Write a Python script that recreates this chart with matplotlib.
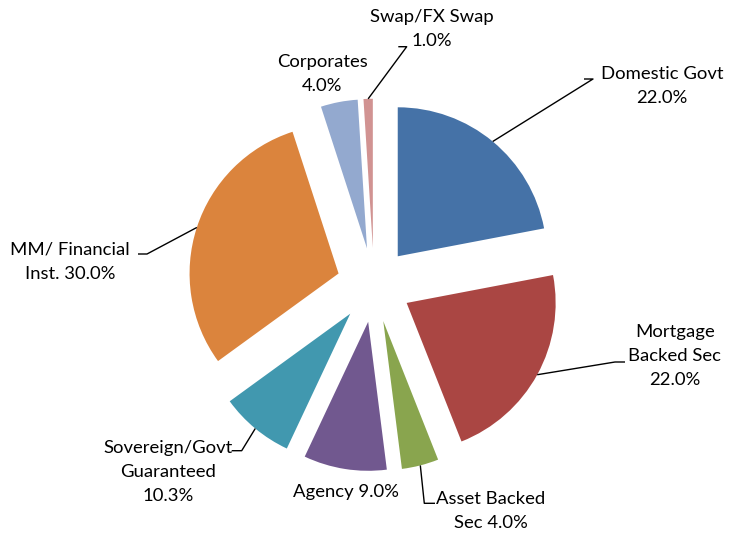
import numpy as np
import matplotlib
matplotlib.use("Agg")
import matplotlib.pyplot as plt

categories = ["Domestic Govt", "Mortgage Backed Sec", "Asset Backed Sec", "Agency",
              "Sovereign/Govt Guaranteed", "MM/ Financial Inst.", "Corporates", "Swap/FX Swap"]
values = [22.0, 22.0, 4.0, 9.0, 8.0, 30.0, 4.0, 1.0]
label_pcts = ["22.0%", "22.0%", "4.0%", "9.0%", "10.3%", "30.0%", "4.0%", "1.0%"]
label_texts = ["Domestic Govt\n22.0%", "Mortgage\nBacked Sec\n22.0%", "Asset Backed\nSec 4.0%",
               "Agency 9.0%", "Sovereign/Govt\nGuaranteed\n10.3%", "MM/ Financial\nInst. 30.0%",
               "Corporates\n4.0%", "Swap/FX Swap\n1.0%"]
colors = ["#4572A7", "#AA4643", "#89A54E", "#71588F", "#4198AF", "#DB843D", "#93A9CF", "#D19392"]

W, H = 739, 533
CX, CY, R = 374.0, 285.0, 149.0

def px(x, y):
    return ((x - CX) / R, (CY - y) / R)

plt.rcParams['font.family'] = ['Lato', 'DejaVu Sans']
fig = plt.figure(figsize=(W / 100, H / 100), dpi=100)
ax = fig.add_axes([0, 0, 1, 1])
wedges, _ = ax.pie(values, colors=colors, startangle=90, counterclock=False,
                   explode=[0.25] * len(values), radius=1.0, center=(0, 0),
                   wedgeprops=dict(linewidth=0))
x0, y0 = px(0, H)
x1, y1 = px(W, 0)
ax.set_xlim(x0, x1)
ax.set_ylim(y0, y1)
ax.set_aspect('equal')
ax.axis('off')

# label text centre (pixels) and elbow / end points for leader lines (pixels)
text_pos = {
    0: (662, 86),
    1: (675, 356),
    2: (491, 511),
    3: (346, 492),
    4: (168, 472),
    5: (70, 262),
    6: (322, 74),
    7: (432, 29),
}
leaders = {
    0: [(593, 79), (584, 79)],
    1: [(615, 362), (625, 362)],
    2: [(424.3, 503.3), (435, 503.3)],
    4: [(241.7, 450.7), (231.7, 450.7)],
    5: [(147, 254), (138, 254)],
    7: [(406.7, 46.7), (398.3, 46.7)],
}

fs = 13.3
for i, txt in enumerate(label_texts):
    tx, ty = px(*text_pos[i])
    ax.text(tx, ty, txt, ha='center', va='center', fontsize=fs, color='#000000',
            linespacing=1.65)
    if i in leaders:
        w = wedges[i]
        tm = np.deg2rad(0.5 * (w.theta1 + w.theta2))
        sx = w.center[0] + w.r * np.cos(tm)
        sy = w.center[1] + w.r * np.sin(tm)
        pts = [(sx, sy)] + [px(*p) for p in leaders[i]]
        xs, ys = zip(*pts)
        ax.plot(xs, ys, color='#000000', lw=1.0, solid_capstyle='butt')

fig.savefig("out.png", dpi=100)
